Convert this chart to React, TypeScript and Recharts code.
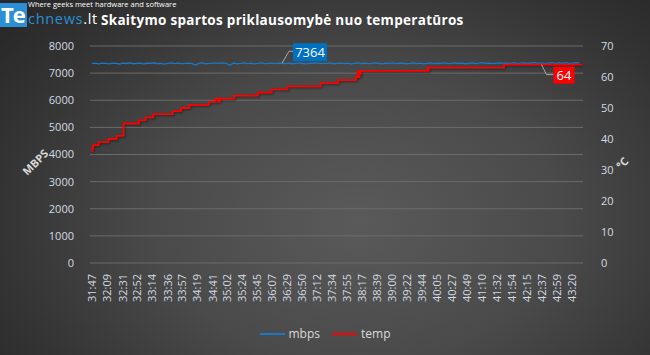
import React from "react";
import {
  LineChart,
  Line,
  XAxis,
  YAxis,
  CartesianGrid,
  Legend,
  LabelList,
} from "recharts";

// x axis tick labels (mm:ss)
const TIME_LABELS = [
  "31:47", "32:09", "32:31", "32:52", "33:14", "33:36", "33:57", "34:19",
  "34:41", "35:02", "35:24", "35:45", "36:07", "36:29", "36:50", "37:12",
  "37:34", "37:55", "38:17", "38:39", "39:00", "39:22", "39:44", "40:05",
  "40:27", "40:49", "41:10", "41:32", "41:54", "42:15", "42:37", "42:59",
  "43:20",
];

// read speed, one reading every 5 s from 31:47
const MBPS_STEP = 5;
const MBPS = [
  7352, 7366, 7340, 7372, 7358, 7344, 7370, 7362, 7336, 7368,
  7355, 7378, 7346, 7360, 7372, 7338, 7364, 7356, 7381, 7349,
  7362, 7330, 7358, 7374, 7351, 7366, 7351, 7360, 7372, 7348,
  7300, 7357, 7376, 7342, 7361, 7369, 7369, 7356, 7374, 7350,
  7290, 7371, 7345, 7358, 7380, 7352, 7366, 7339, 7362, 7375,
  7348, 7360, 7371, 7354, 7367, 7364, 7351, 7373, 7346, 7362,
  7378, 7355, 7342, 7368, 7360, 7376, 7349, 7363, 7357, 7380,
  7345, 7361, 7372, 7350, 7366, 7338, 7359, 7374, 7353, 7367,
  7348, 7362, 7379, 7355, 7341, 7369, 7358, 7375, 7350, 7364,
  7372, 7346, 7360, 7377, 7354, 7366, 7343, 7362, 7379, 7351,
  7368, 7357, 7374, 7348, 7363, 7381, 7355, 7370, 7346, 7362,
  7376, 7352, 7367, 7385, 7358, 7372, 7349, 7366, 7380, 7355,
  7371, 7362, 7386, 7350, 7368, 7377, 7356, 7373, 7390, 7360,
  7375, 7352, 7369, 7384, 7358, 7374, 7364, 7389, 7355, 7371,
  7382, 7366,
];
const MBPS_LABEL_INDEX = 55;

// temperature changes: seconds since 31:47 -> °C
const TEMP_T = [
  0, 1, 2, 10, 24, 36, 46, 68, 78, 89, 117, 129, 141, 169, 179, 183, 185,
  206, 240, 260, 283, 331, 356, 382, 384, 385, 386, 387, 388, 389, 485, 486,
  487, 596, 650, 709,
];
const TEMP = [
  36, 37, 38, 39, 40, 41, 45, 46, 47, 48, 49, 50, 51, 52, 53, 52, 53,
  54, 55, 56, 57, 58, 59, 60, 61, 62, 60, 62, 61, 62, 63, 62,
  63, 64, 64, 64,
];
const TEMP_LABEL_T = 650;

const toSec = (s: string) => {
  const [m, ss] = s.split(":").map(Number);
  return m * 60 + ss;
};
const T0 = toSec(TIME_LABELS[0]);
const TICKS = TIME_LABELS.map((l) => toSec(l) - T0);

const mbpsData = MBPS.map((v, i) => ({ t: i * MBPS_STEP, mbps: v }));
const tempData = TEMP_T.map((t, i) => ({ t, temp: TEMP[i] }));

const FONT = "'Open Sans', 'DejaVu Sans', sans-serif";
const TICK_COLOR = "#d3dbe3";

const TimeTick = ({ x, y, payload }: any) => {
  const idx = TICKS.indexOf(payload.value);
  return (
    <text
      transform={`translate(${x},${y + 3}) rotate(-90)`}
      textAnchor="end"
      dominantBaseline="central"
      fill={TICK_COLOR}
      fontSize={11}
      fontFamily={FONT}
    >
      {idx >= 0 ? TIME_LABELS[idx] : ""}
    </text>
  );
};

const MbpsLabel = ({ x, y, index, value }: any) => {
  if (index !== MBPS_LABEL_INDEX) return null;
  return (
    <g>
      <polyline
        points={`${x},${y} ${x + 7},${y - 12} ${x + 11},${y - 12}`}
        stroke="#a6a6a6"
        fill="none"
      />
      <rect x={x + 11} y={y - 20} width={34} height={18} fill="#0070c0" />
      <text
        x={x + 28}
        y={y - 6.5}
        textAnchor="middle"
        fill="#fff"
        fontSize={13}
        fontFamily={FONT}
      >
        {value}
      </text>
    </g>
  );
};

const TempLabel = ({ x, y, index, value }: any) => {
  if (TEMP_T[index] !== TEMP_LABEL_T) return null;
  return (
    <g>
      <polyline
        points={`${x},${y} ${x + 5},${y + 10} ${x + 12},${y + 10}`}
        stroke="#a6a6a6"
        fill="none"
      />
      <rect x={x + 12} y={y + 2} width={21} height={17} fill="#ff0000" />
      <text
        x={x + 22.5}
        y={y + 15}
        textAnchor="middle"
        fill="#fff"
        fontSize={13}
        fontFamily={FONT}
      >
        {value}
      </text>
    </g>
  );
};

const LegendContent = () => (
  <div
    style={{
      display: "flex",
      justifyContent: "center",
      gap: 12,
      fontFamily: FONT,
      fontSize: 12,
      color: "#d9d9d9",
    }}
  >
    {[
      { name: "mbps", color: "#1a78c9" },
      { name: "temp", color: "#ff0000" },
    ].map((it) => (
      <div key={it.name} style={{ display: "flex", alignItems: "center" }}>
        <span
          style={{
            display: "inline-block",
            width: 25,
            height: 2,
            background: it.color,
            marginRight: 4,
          }}
        />
        {it.name}
      </div>
    ))}
  </div>
);

export default function App() {
  return (
    <div
      style={{
        position: "absolute",
        left: 0,
        top: 0,
        width: 650,
        height: 355,
        overflow: "hidden",
        background:
          "radial-gradient(ellipse 70% 90% at 55% 62%, #5a5a5a 0%, #4a4a4a 45%, #333 80%, #282828 100%)",
        fontFamily: FONT,
      }}
    >
      <style>{`.temp-line path { filter: drop-shadow(1.5px 1.5px 1px rgba(0,0,0,0.45)); }`}</style>

      {/* logo */}
      <div
        style={{
          position: "absolute",
          left: 0,
          top: 3,
          width: 27,
          height: 24,
          background: "#2a8fd4",
        }}
      />
      <div
        style={{
          position: "absolute",
          left: 1,
          top: 1,
          fontSize: 22,
          lineHeight: "26px",
          fontWeight: 700,
          color: "#fff",
          letterSpacing: -1,
        }}
      >
        Te
      </div>
      <div
        style={{
          position: "absolute",
          left: 28,
          top: 12,
          fontSize: 14.5,
          lineHeight: "14px",
          color: "#2a8fd4",
          letterSpacing: 0.7,
        }}
      >
        chnews<span style={{ color: "#fff" }}>.lt</span>
      </div>
      <div
        style={{
          position: "absolute",
          left: 28,
          top: 0,
          fontSize: 7.5,
          lineHeight: "8px",
          color: "#fff",
          whiteSpace: "nowrap",
        }}
      >
        Where geeks meet hardware and software
      </div>

      {/* title */}
      <div
        style={{
          position: "absolute",
          left: 101,
          top: 11,
          fontSize: 13.5,
          lineHeight: "18px",
          fontWeight: 700,
          color: "#fff",
          whiteSpace: "nowrap",
          letterSpacing: 0.3,
        }}
      >
        Skaitymo spartos priklausomybė nuo temperatūros
      </div>

      {/* axis titles */}
      <div
        style={{
          position: "absolute",
          left: 35,
          top: 162,
          transform: "translate(-50%,-50%) rotate(-45deg)",
          fontSize: 11,
          fontWeight: 700,
          color: "#d9d9d9",
        }}
      >
        MBPS
      </div>
      <div
        style={{
          position: "absolute",
          left: 622,
          top: 163,
          transform: "translate(-50%,-50%) rotate(-45deg)",
          fontSize: 11,
          fontWeight: 700,
          color: "#d9d9d9",
        }}
      >
        °C
      </div>

      <LineChart
        width={650}
        height={355}
        margin={{ top: 46, right: 0, bottom: 30, left: 0 }}
        style={{ position: "absolute", left: 0, top: 0 }}
      >
        <CartesianGrid
          yAxisId="left"
          vertical={false}
          stroke="#6b6b6b"
        />
        <XAxis
          type="number"
          dataKey="t"
          domain={[-2.5, 710]}
          ticks={TICKS}
          interval={0}
          allowDataOverflow
          axisLine={false}
          tickLine={false}
          height={45}
          tick={<TimeTick />}
        />
        <YAxis
          yAxisId="left"
          orientation="left"
          width={90}
          domain={[0, 8000]}
          ticks={[0, 1000, 2000, 3000, 4000, 5000, 6000, 7000, 8000]}
          axisLine={false}
          tickLine={false}
          tickMargin={10}
          tick={{ fill: TICK_COLOR, fontSize: 11, fontFamily: FONT }}
        />
        <YAxis
          yAxisId="right"
          orientation="right"
          width={67}
          domain={[0, 70]}
          ticks={[0, 10, 20, 30, 40, 50, 60, 70]}
          axisLine={false}
          tickLine={false}
          tickMargin={12}
          tick={{ fill: TICK_COLOR, fontSize: 11, fontFamily: FONT, textAnchor: "start" }}
        />
        <Line
          yAxisId="left"
          data={mbpsData}
          dataKey="mbps"
          name="mbps"
          type="linear"
          stroke="#1a78c9"
          strokeWidth={1.3}
          dot={false}
          isAnimationActive={false}
        >
          <LabelList dataKey="mbps" content={<MbpsLabel />} />
        </Line>
        <Line
          yAxisId="right"
          data={tempData}
          dataKey="temp"
          name="temp"
          type="stepAfter"
          stroke="#ff0000"
          strokeWidth={1.8}
          dot={false}
          className="temp-line"
          isAnimationActive={false}
        >
          <LabelList dataKey="temp" content={<TempLabel />} />
        </Line>
        <Legend
          content={<LegendContent />}
          wrapperStyle={{ position: "absolute", top: 325, left: 0, width: 650 }}
        />
      </LineChart>
    </div>
  );
}
